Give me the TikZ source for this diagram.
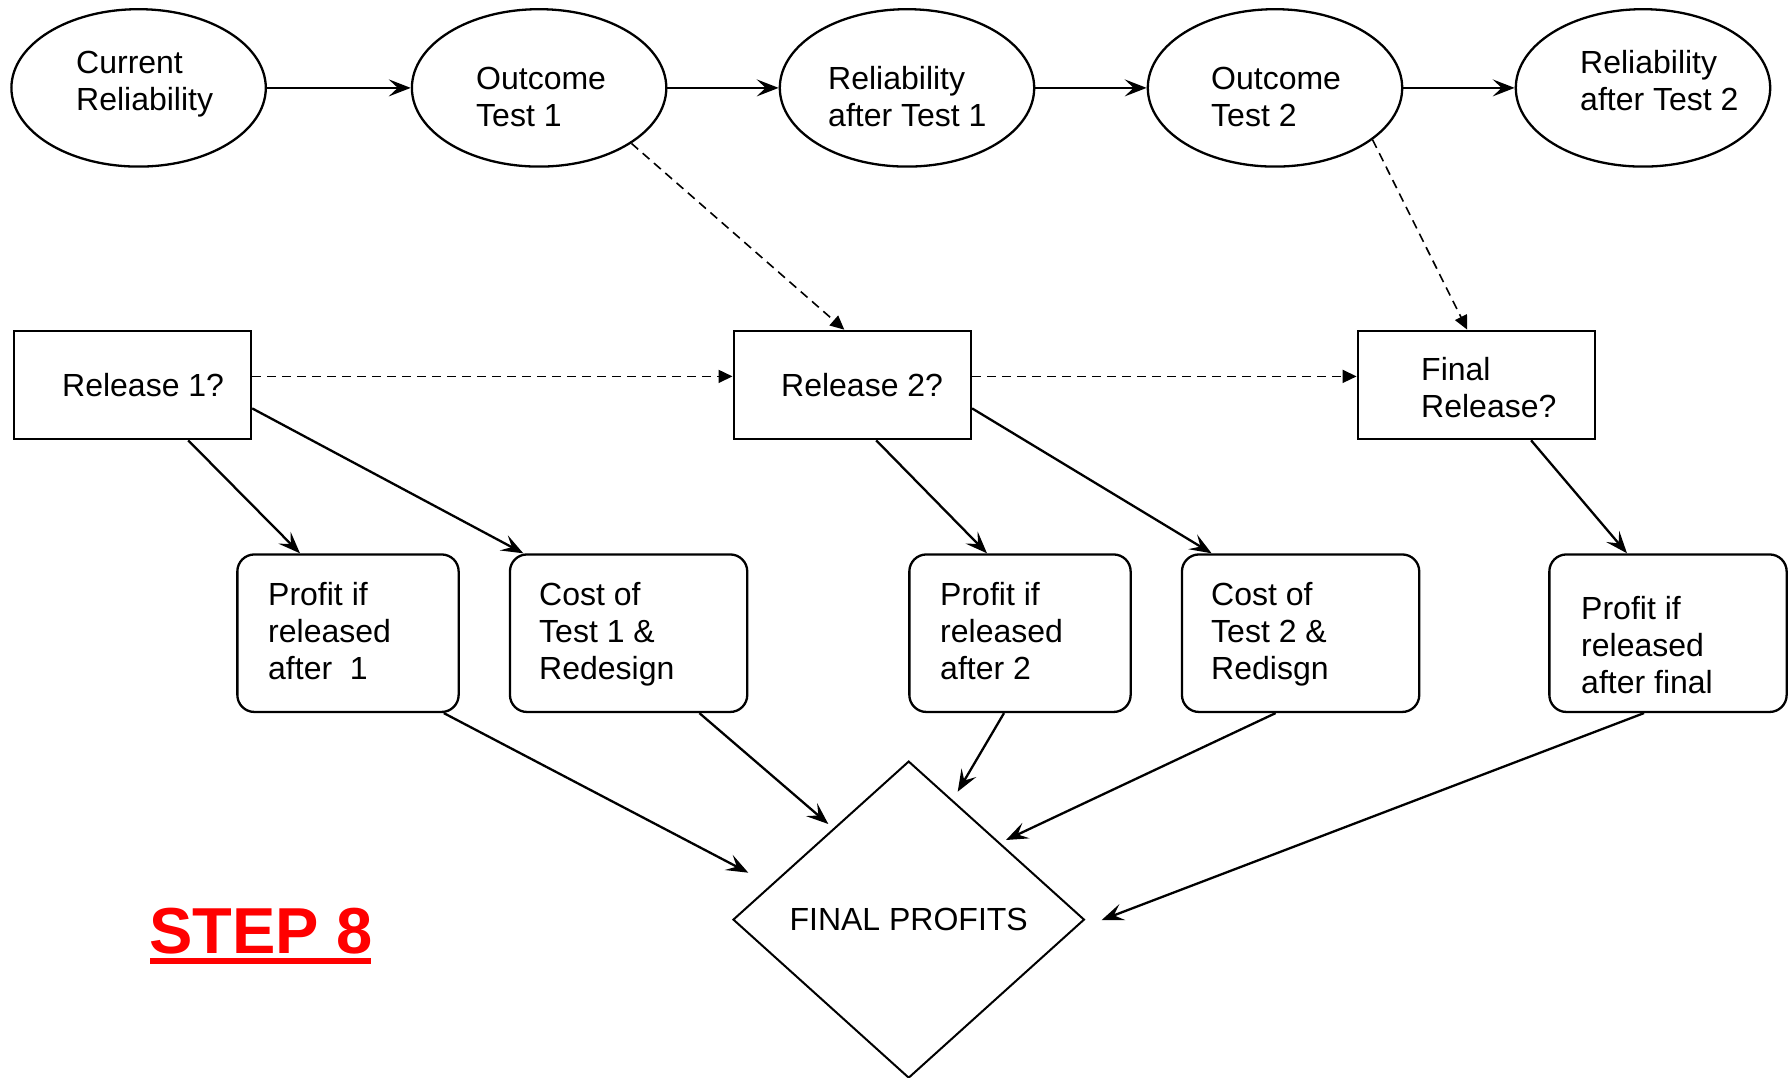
\documentclass[tikz,border=0pt]{standalone}
\usepackage{fontspec}
\setmainfont{Liberation Sans}
\usetikzlibrary{shapes.geometric,arrows.meta,calc}
\begin{document}
\begin{tikzpicture}[x=1pt,y=-1pt,
  every node/.style={font=\fontsize{32}{37}\selectfont},
  ell/.style={draw,ellipse,line width=2.3pt,minimum width=254.4pt,minimum height=157.4pt,inner sep=0pt},
  decbox/.style={draw,rectangle,line width=2.3pt,minimum width=237.3pt,minimum height=108.4pt,inner sep=0pt},
  valbox/.style={draw,rectangle,rounded corners=17pt,line width=2.3pt,minimum height=157.5pt,inner sep=0pt},
  txt/.style={anchor=base west,align=left,inner sep=0pt},
  sol/.style={line width=2.3pt,-{Stealth[length=22pt,width=17pt,inset=9pt]}},
  dsh/.style={line width=1.6pt,dash pattern=on 9pt off 6pt,-{Triangle[length=14pt,width=13pt]}},
]
\useasboundingbox (0,0) rectangle (1789,1078);

% chance nodes
\node[ell] (e1) at (138.6,87.9) {};
\node[ell] (e2) at (539.1,87.9) {};
\node[ell] (e3) at (907,87.9) {};
\node[ell] (e4) at (1275,87.9) {};
\node[ell] (e5) at (1643,87.9) {};

% decision nodes
\node[decbox] (r1) at (132.4,385) {};
\node[decbox] (r2) at (852.3,385) {};
\node[decbox] (fr) at (1476.4,385) {};

% value nodes
\node[valbox,minimum width=221.3pt] (p1) at (348,633.2) {};
\node[valbox,minimum width=237.3pt] (c1) at (628.6,633.2) {};
\node[valbox,minimum width=221.3pt] (p2) at (1020,633.2) {};
\node[valbox,minimum width=237.3pt] (c2) at (1300.6,633.2) {};
\node[valbox,minimum width=237.3pt] (pf) at (1668,633.2) {};

% final
\node[draw,diamond,line width=2pt,minimum width=351.4pt,minimum height=317pt,inner sep=0pt] (fp) at (908.7,919.6) {FINAL PROFITS};

% texts (anchor = baseline of last line)
\node[txt] (t1) at (76,110.3) {Current\\Reliability};
\node[txt] (t2) at (476,126.3) {Outcome\\Test 1};
\node[txt] (t3) at (828,126.3) {Reliability\\after Test 1};
\node[txt] (t4) at (1211,126.3) {Outcome\\Test 2};
\node[txt] (t5) at (1580,110.3) {Reliability\\after Test 2};
\node[txt] (t6) at (62,396.7) {Release 1?};
\node[txt] (t7) at (781,396.7) {Release 2?};
\node[txt] (t8) at (1421,417) {Final\\Release?};
\node[txt] (t9) at (268,679) {Profit if\\released\\after\ \ 1};
\node[txt] (t10) at (539,679) {Cost of\\Test 1 \&\\Redesign};
\node[txt] (t11) at (940,679) {Profit if\\released\\after 2};
\node[txt] (t12) at (1211,679) {Cost of\\Test 2 \&\\Redisgn};
\node[txt] (t13) at (1581,693) {Profit if\\released\\after final};

% step label
\node[anchor=base west,inner sep=0pt,text=red,font=\fontsize{65}{78}\selectfont\bfseries] (step) at (149,953.3) {STEP 8};
\draw[red,line width=6pt] ($(step.base west)+(1,8)$) -- ($(step.base east)+(-2,8)$);

% top chain
\draw[sol] (e1) -- (e2);
\draw[sol] (e2) -- (e3);
\draw[sol] (e3) -- (e4);
\draw[sol] (e4) -- (e5);

% information arcs
\draw[dsh] ([yshift=8.6pt]r1.east) -- ([yshift=8.6pt]r2.west);
\draw[dsh] ([yshift=8.6pt]r2.east) -- ([yshift=8.6pt]fr.west);
\draw[dsh] (e2.-31.4) -- ([xshift=-8pt]r2.north);
\draw[dsh] (e4.-28.3) -- ([xshift=-9.2pt]fr.north);

% decisions to values
\draw[sol] ([xshift=55.8pt]r1.south) -- ([xshift=-48pt]p1.north);
\draw[sol] ([yshift=-23.4pt]r1.east) -- ([xshift=-105.3pt]c1.north);
\draw[sol] ([xshift=23.9pt]r2.south) -- ([xshift=-33pt]p2.north);
\draw[sol] ([yshift=-23.4pt]r2.east) -- ([xshift=-89pt]c2.north);
\draw[sol] ([xshift=54.7pt]fr.south) -- ([xshift=-41pt]pf.north);

% values to final profits
\coordinate (fa) at (748.3,872.7);
\coordinate (fb) at (828.3,824);
\coordinate (fc) at (957.7,791.7);
\coordinate (fd) at (1006,840);
\coordinate (fe) at (1101.7,920);
\draw[sol] ([xshift=95.8pt]p1.south) -- (fa);
\draw[sol] ([xshift=70.8pt]c1.south) -- (fb);
\draw[sol] ([xshift=-16pt]p2.south) -- (fc);
\draw[sol] ([xshift=-25pt]c2.south) -- (fd);
\draw[sol] ([xshift=-24pt]pf.south) -- (fe);
\end{tikzpicture}
\end{document}
